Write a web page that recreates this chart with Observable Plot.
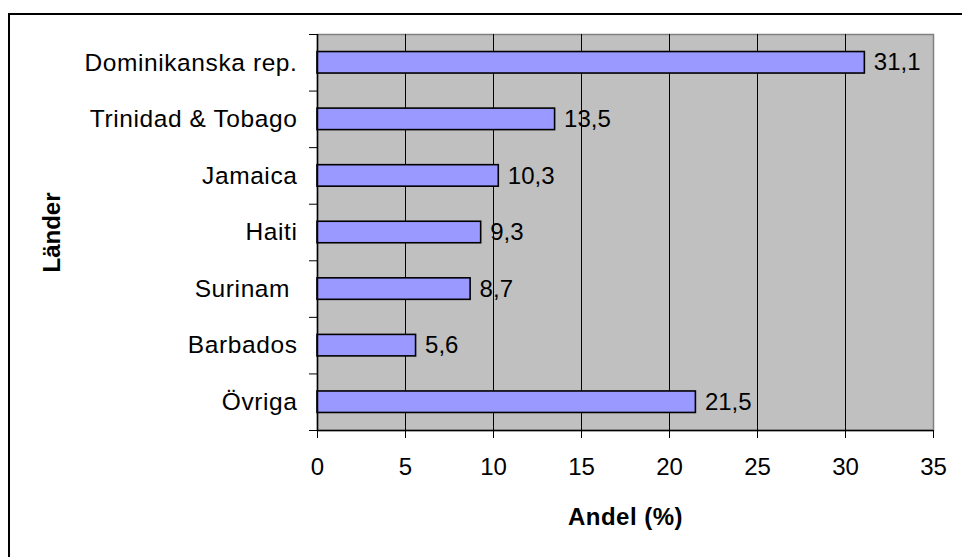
<!DOCTYPE html>
<html>
<head>
<meta charset="utf-8">
<script src="https://cdn.jsdelivr.net/npm/d3@7"></script>
<script src="https://cdn.jsdelivr.net/npm/@observablehq/plot@0.6"></script>
<style>
  html, body { margin: 0; padding: 0; background: #fff; overflow: hidden; }
  #wrap { position: relative; width: 962px; height: 557px; }
  #border { position: absolute; left: 8px; top: 13px; width: 2000px; height: 2000px;
            border-top: 2px solid #000; border-left: 2px solid #000; box-sizing: border-box; }
  #chart { position: absolute; left: 0; top: 0; }
  .cat-labels text { letter-spacing: 0.6px; }
  .axis-title text { letter-spacing: 0.5px; }
</style>
</head>
<body>
<div id="wrap"><div id="border"></div><div id="chart"></div></div>
<script>
const categories = ["Dominikanska rep.", "Trinidad & Tobago", "Jamaica", "Haiti", "Surinam ", "Barbados", "Övriga"];
const values = [31.1, 13.5, 10.3, 9.3, 8.7, 5.6, 21.5];
const xTicks = [0, 5, 10, 15, 20, 25, 30, 35];
const xLabel = "Andel (%)";
const yLabel = "Länder";

const data = categories.map((c, i) => ({c, v: values[i], i}));
const fmt = v => v.toFixed(1).replace(".", ",");
const font = "'Liberation Sans', Arial, sans-serif";

const chart = Plot.plot({
  width: 962,
  height: 557,
  marginLeft: 317,
  marginRight: 29,
  marginTop: 34,
  marginBottom: 127,
  style: {fontFamily: font, fontSize: "24px", background: "transparent", color: "#000", overflow: "visible"},
  x: {domain: [0, 35]},
  y: {domain: [0, categories.length], reverse: true},
  marks: [
    Plot.frame({fill: "#C0C0C0", stroke: "#808080", strokeWidth: 1.5}),
    Plot.gridX(xTicks.filter(t => t > 0 && t < 35), {stroke: "#000", strokeOpacity: 1, strokeWidth: 1}),
    Plot.rectX(data, {x1: 0, x2: "v", y1: d => d.i + 0.31, y2: d => d.i + 0.69, fill: "#9999FF", stroke: "#000", strokeWidth: 1.6}),
    Plot.ruleX([0], {stroke: "#000", strokeWidth: 1.5}),
    Plot.ruleY([categories.length], {stroke: "#000", strokeWidth: 1.5}),
    Plot.axisX({ticks: xTicks, tickSize: 8, tickPadding: 19, fontSize: 24, label: null, stroke: "#000"}),
    Plot.axisY({ticks: d3.range(0, categories.length + 1), tickSize: 8, tickFormat: () => "", label: null}),
    Plot.axisY({ticks: d3.range(categories.length).map(i => i + 0.5), tickSize: 0, tickPadding: 20,
                tickFormat: d => categories[Math.floor(d)], fontSize: 24.5, label: null, className: "cat-labels"}),
    Plot.text(data, {x: "v", y: d => d.i + 0.5, text: d => fmt(d.v), textAnchor: "start", dx: 9, fontSize: 24, fill: "#000"}),
    Plot.text([xLabel], {frameAnchor: "bottom", textAnchor: "middle", lineAnchor: "middle", dy: 87,
                         fontWeight: "bold", fontSize: 24, fill: "#000", className: "axis-title"}),
    Plot.text([yLabel], {frameAnchor: "left", textAnchor: "middle", lineAnchor: "middle", dx: -265, rotate: -90,
                         fontWeight: "bold", fontSize: 24, fill: "#000"})
  ]
});
document.getElementById("chart").appendChild(chart);
</script>
</body>
</html>
